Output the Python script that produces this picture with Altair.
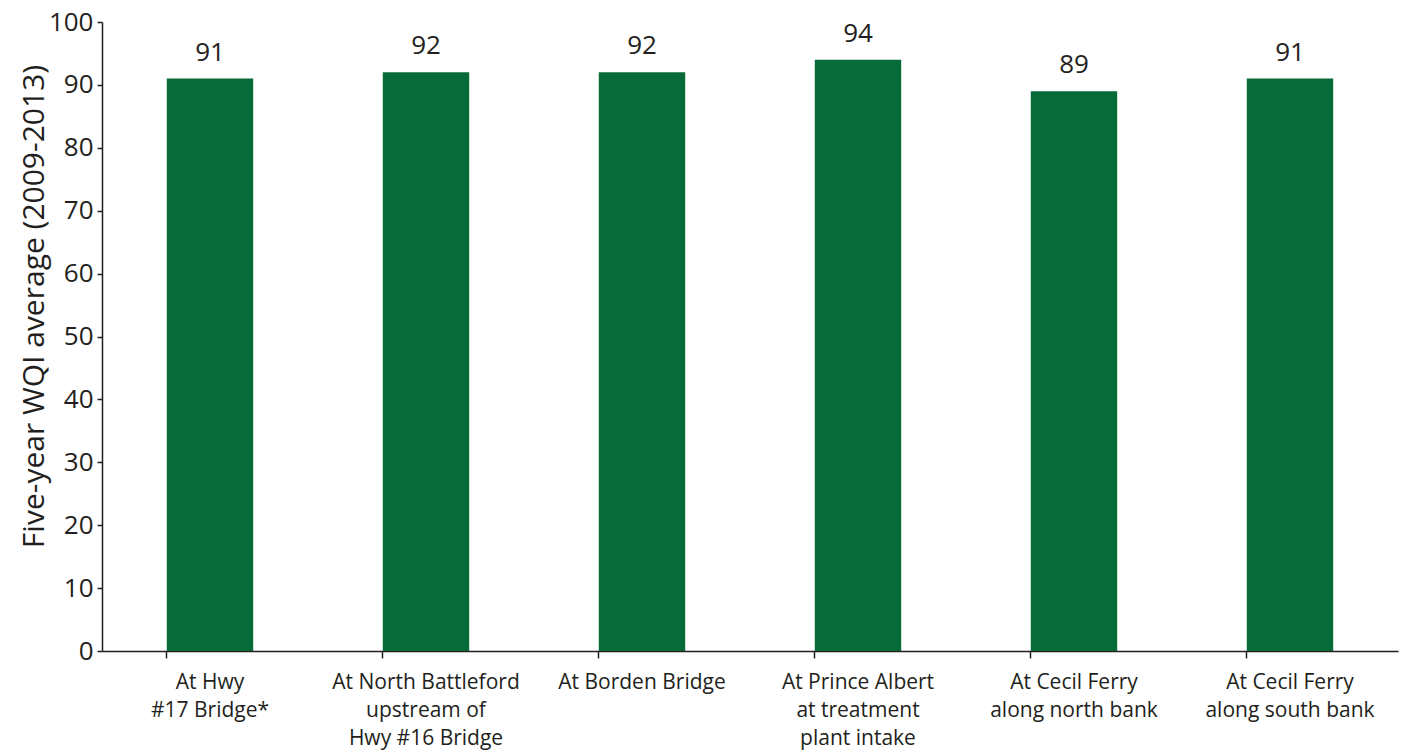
import altair as alt
import pandas as pd

# Monitoring sites along the river (line breaks mark label wrapping)
sites = [
    "At Hwy\n#17 Bridge*",
    "At North Battleford\nupstream of\nHwy #16 Bridge",
    "At Borden Bridge",
    "At Prince Albert\nat treatment\nplant intake",
    "At Cecil Ferry\nalong north bank",
    "At Cecil Ferry\nalong south bank",
]
# Five-year WQI averages (2009-2013)
wqi = [91, 92, 92, 94, 89, 91]

y_ticks = list(range(0, 101, 10))

df = pd.DataFrame({"site": sites, "wqi": wqi})

FONT = "Open Sans"
INK = "#231F20"
GREEN = "#066B38"

x_enc = alt.X(
    "site:N",
    sort=sites,
    scale=alt.Scale(paddingInner=0.6, paddingOuter=0.3),
    axis=alt.Axis(
        title=None,
        labelAngle=0,
        labelExpr="split(datum.label, '\\n')",
        labelFont=FONT,
        labelFontSize=21,
        labelLineHeight=28,
        labelLimit=0,
        labelColor=INK,
        labelPadding=13,
        tickSize=7,
        bandPosition=0,
        tickColor=INK,
        domainColor=INK,
        tickWidth=1.5,
        domainWidth=1.5,
        grid=False,
    ),
)

y_enc = alt.Y(
    "wqi:Q",
    scale=alt.Scale(domain=[0, 100], nice=False),
    axis=alt.Axis(
        title="Five-year WQI average (2009-2013)",
        titleFont=FONT,
        titleFontSize=30,
        titleFontWeight="normal",
        titleColor=INK,
        titleAngle=270,
        titleAlign="center",
        titleBaseline="middle",
        titleX=-68,
        titleY=284,
        values=y_ticks,
        labelFont=FONT,
        labelFontSize=26,
        labelColor=INK,
        labelPadding=4,
        tickSize=5,
        tickColor=INK,
        domainColor=INK,
        tickWidth=1.5,
        domainWidth=1.5,
        grid=False,
    ),
)

bars = alt.Chart(df).mark_bar(color=GREEN).encode(x=x_enc, y=y_enc)

labels = alt.Chart(df).mark_text(
    font=FONT, fontSize=26, color=INK, baseline="alphabetic", dy=-18
).encode(x=alt.X("site:N", sort=sites), y="wqi:Q", text=alt.Text("wqi:Q", format="d"))

chart = (
    alt.layer(bars, labels)
    .properties(
        width=1296,
        height=629,
        autosize=alt.AutoSizeParams(type="none"),
        padding={"left": 102, "top": 22, "right": 12, "bottom": 101},
        view=alt.ViewBackground(stroke="transparent", strokeWidth=0),
    )
    .configure(
        background="white",
        view=alt.ViewConfig(stroke="transparent", strokeWidth=0),
        style={"cell": {"stroke": "transparent", "strokeWidth": 0},
               "view": {"stroke": "transparent", "strokeWidth": 0}},
    )
)

chart.save("out.html", embed_options={"renderer": "svg", "actions": False})
